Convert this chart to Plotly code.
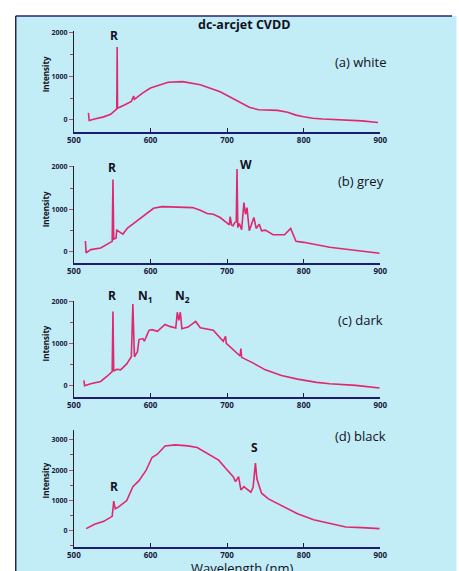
import plotly.graph_objects as go

# ---------------- data ----------------
wl_white = [519, 520, 527, 539, 548, 556, 556.5, 557, 566, 575, 578, 579, 590, 600, 612, 623, 642, 665, 691, 708, 720, 729, 741, 755, 766, 779, 790, 800, 812, 825, 840, 859, 876, 897]
int_white = [160, -15, 20, 70, 130, 255, 1665, 265, 340, 423, 547, 470, 620, 730, 800, 861, 876, 803, 642, 489, 370, 292, 234, 225, 219, 175, 110, 73, 40, 22, 10, 0, -22, -58]

wl_grey = [515, 516, 522, 535, 550, 551, 552, 555, 556, 564, 570, 581, 594, 604, 615, 632, 655, 665, 674, 682, 691, 703, 704, 706, 708, 710, 712, 713, 714, 716, 719, 722, 724, 726, 729, 735, 738, 742, 745, 750, 756, 760, 775, 783, 790, 800, 834, 868, 899]
int_grey = [243, -39, 39, 78, 235, 1702, 290, 310, 502, 408, 549, 698, 878, 1020, 1059, 1051, 1035, 973, 894, 878, 800, 627, 824, 620, 604, 682, 700, 1953, 565, 659, 510, 1153, 878, 1035, 486, 800, 541, 643, 486, 502, 447, 392, 392, 541, 235, 212, 94, 16, -47]

wl_dark = [513, 514, 522, 535, 543, 550, 551, 552, 556, 561, 569, 575, 577, 579, 583, 585, 590, 592, 598, 602, 609, 619, 625, 633, 635, 637, 639, 641, 649, 659, 665, 682, 695, 698, 699, 708, 717, 718, 719, 733, 750, 771, 792, 817, 834, 868, 899]
int_dark = [118, -8, 39, 94, 212, 329, 1757, 340, 384, 369, 510, 682, 1937, 682, 800, 1090, 1114, 1051, 1310, 1325, 1286, 1451, 1404, 1365, 1741, 1545, 1741, 1349, 1388, 1522, 1373, 1310, 1051, 1169, 1000, 839, 698, 878, 667, 541, 369, 235, 149, 71, 39, 0, -63]

wl_black = [516, 527, 539, 550, 552, 554, 558, 569, 577, 585, 594, 602, 609, 619, 632, 649, 661, 672, 684, 689, 699, 708, 711, 715, 718, 722, 724, 731, 734, 737, 739, 745, 754, 771, 792, 813, 834, 855, 876, 899]
int_black = [55, 198, 297, 462, 967, 714, 769, 989, 1451, 1648, 1978, 2418, 2527, 2802, 2835, 2802, 2747, 2582, 2418, 2330, 2033, 1780, 1615, 1780, 1340, 1451, 1407, 1264, 1429, 2231, 1703, 1231, 1044, 824, 549, 352, 220, 110, 88, 55]

x_ticks = [500, 600, 700, 800, 900]
panel_names = ["(a) white", "(b) grey", "(c) dark", "(d) black"]

# ---------------- layout helpers ----------------
W, H = 459, 571
def px(x):
    return x / W
def py(y):
    return 1 - y / H

LINE = "#e0286e"
BG = "#c2ecf6"
INK = "#1a1a3c"
FONT = "Open Sans"

series = [(wl_white, int_white), (wl_grey, int_grey), (wl_dark, int_dark), (wl_black, int_black)]
ydom_px = [(27.3, 129), (163.3, 260.7), (299, 395.7), (429, 546.7)]
yranges = [[-278, 2030], [-275, 2018], [-275, 2010], [-550, 3330]]
yticks = [[0, 1000, 2000], [0, 1000, 2000], [0, 1000, 2000], [0, 1000, 2000, 3000]]

fig = go.Figure()
layout = dict(
    width=W, height=H,
    margin=dict(l=0, r=0, t=0, b=0),
    paper_bgcolor="white", plot_bgcolor="rgba(0,0,0,0)",
    showlegend=False,
    font=dict(family=FONT, color=INK),
)

for i, (xs, ys) in enumerate(series):
    n = "" if i == 0 else str(i + 1)
    fig.add_trace(go.Scatter(x=xs, y=ys, mode="lines", xaxis="x" + n, yaxis="y" + n,
                             line=dict(color=LINE, width=1.6), hoverinfo="skip"))
    top, bot = ydom_px[i]
    layout["xaxis" + n] = dict(
        domain=[px(69), px(385)], anchor="y" + n, range=[500, 900],
        tickvals=x_ticks, ticks="inside", ticklen=4, tickcolor=INK,
        showline=True, linecolor="#1c1c70", linewidth=1.5, showgrid=False, zeroline=False,
        tickfont=dict(size=8, family=FONT, weight="bold", color=INK),
    )
    layout["yaxis" + n] = dict(
        domain=[py(bot), py(top)], anchor="x" + n, range=yranges[i],
        tickvals=yticks[i], ticks="outside", ticklen=4, tickcolor="#c8503c",
        minor=dict(dtick=500, tick0=0, ticks="outside", ticklen=3, tickcolor="#b04040"),
        showline=True, linecolor="#20202c", linewidth=1.2, showgrid=False, zeroline=False,
        tickfont=dict(size=7, family=FONT, weight="bold", color=INK),
    )

fig.update_layout(**layout)

# background panel with border
fig.add_shape(type="rect", xref="paper", yref="paper", x0=px(9), x1=1.01, y0=-0.01, y1=py(12),
              fillcolor=BG, line=dict(width=0), layer="below")
fig.add_shape(type="line", xref="paper", yref="paper", x0=px(9), x1=1.0, y0=py(12), y1=py(12),
              line=dict(color="#262670", width=1.5), layer="below")
fig.add_shape(type="line", xref="paper", yref="paper", x0=px(9), x1=px(9), y0=0, y1=py(12),
              line=dict(color="#262650", width=1.5), layer="below")

def ann(text, x, y, size, bold=False, angle=0):
    fig.add_annotation(text=text, x=px(x), y=py(y), xref="paper", yref="paper",
                       showarrow=False, textangle=angle, xanchor="center", yanchor="middle",
                       font=dict(family=FONT, size=size, color="#111122",
                                 weight="bold" if bold else "normal"))

ann("dc-arcjet CVDD", 244, 21, 12.5, bold=True)
name_y = [58.5, 178.5, 318, 435]
for nm, yy in zip(panel_names, name_y):
    ann(nm, 365, yy, 13)

# y-axis titles
title_y = [71, 207, 342, 480]
for yy in title_y:
    ann("Intensity", 40, yy, 8, bold=True, angle=-90)

# peak labels
ann("R", 110, 32, 12, bold=True)
ann("R", 108, 165, 12, bold=True)
ann("W", 247, 162, 12, bold=True)
ann("R", 108, 294, 12, bold=True)
ann("N<sub>1</sub>", 143, 294, 12, bold=True)
ann("N<sub>2</sub>", 181, 294, 12, bold=True)
ann("R", 110, 486, 12, bold=True)
ann("S", 255, 447, 12, bold=True)

ann("Wavelength (nm)", 242, 568, 13)

fig.write_html("out.html", config={"displayModeBar": False},
               post_script="document.body.style.margin='0';document.body.style.padding='0';")
